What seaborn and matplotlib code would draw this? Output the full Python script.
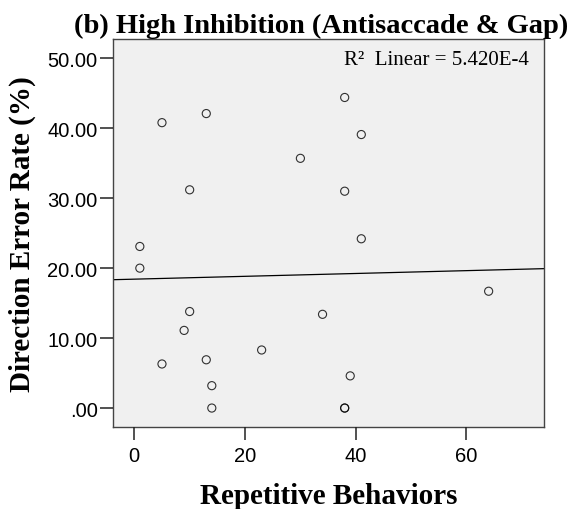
import matplotlib
matplotlib.use("Agg")
import matplotlib.pyplot as plt
import seaborn as sns
import pandas as pd

# Data
repetitive_behaviors = [1, 1, 5, 5, 10, 10, 9, 13, 13, 14, 14, 23, 30, 34, 38, 38, 38, 38, 39, 41, 41, 64]
direction_error_rate = [23.1, 20.0, 40.8, 6.3, 31.2, 13.8, 11.1, 42.1, 6.9, 3.2, 0.0, 8.3, 35.7, 13.4,
                        44.4, 31.0, 0.0, 0.0, 4.6, 39.1, 24.2, 16.7]
x_ticks = [0, 20, 40, 60]
x_tick_labels = ["0", "20", "40", "60"]
y_ticks = [0, 10, 20, 30, 40, 50]
y_tick_labels = [".00", "10.00", "20.00", "30.00", "40.00", "50.00"]

df = pd.DataFrame({"Repetitive Behaviors": repetitive_behaviors,
                   "Direction Error Rate (%)": direction_error_rate})

sns.set_style("ticks")
plt.rcParams.update({
    "axes.axisbelow": False,
    "xtick.bottom": True, "ytick.left": True,
    "xtick.major.size": 9.4, "ytick.major.size": 9.4,
    "xtick.major.width": 1.0, "ytick.major.width": 1.0,
    "xtick.direction": "out", "ytick.direction": "out",
    "xtick.color": "black", "ytick.color": "black",
    "xtick.labelcolor": "black", "ytick.labelcolor": "black",
    "xtick.major.pad": 4.5, "ytick.major.pad": 1.5,
})

fig = plt.figure(figsize=(5.76, 5.10), dpi=100)
L, R, T, B = 112.7, 544.0, 40.0, 428.0
ax = fig.add_axes([L / 576, 1 - B / 510, (R - L) / 576, (B - T) / 510])
ax.set_facecolor("#F0F0F0")
ax.set_xlim(-3.9, 74.0)
ax.set_ylim(-2.71, 52.76)

sns.regplot(data=df, x="Repetitive Behaviors", y="Direction Error Rate (%)", ax=ax,
            ci=None, truncate=False,
            scatter_kws=dict(s=34, facecolors="none", edgecolors="black", linewidths=0.8),
            line_kws=dict(color="black", linewidth=0.9))

ax.set_xlim(-3.9, 74.0)
ax.set_ylim(-2.71, 52.76)

ax.set_xticks(x_ticks)
ax.set_xticklabels(x_tick_labels)
ax.set_yticks(y_ticks)
ax.set_yticklabels(y_tick_labels)
ax.xaxis.set_tick_params(which="major", bottom=True, length=9.4, width=1.1, direction="out",
                         color="#222222", labelsize=14.5, pad=4.5)
ax.yaxis.set_tick_params(which="major", left=True, length=9.4, width=1.1, direction="out",
                         color="#222222", labelsize=14.5, pad=1.5)
for t in ax.xaxis.get_major_ticks() + ax.yaxis.get_major_ticks():
    t.tick1line.set_visible(True)
    t.tick1line.set_alpha(1)
    t.tick1line.set_zorder(5)
for lab in ax.get_xticklabels() + ax.get_yticklabels():
    lab.set_family("Liberation Sans")

for sp in ax.spines.values():
    sp.set_visible(True)
    sp.set_color("#444444")
    sp.set_linewidth(1.0)

serif = dict(family="Liberation Serif", fontweight="bold", color="black")
ax.set_xlabel("Repetitive Behaviors", fontsize=21, labelpad=12, **serif)
ax.set_ylabel("Direction Error Rate (%)", fontsize=21, labelpad=8, **serif)
fig.text(321 / 576, 1 - 33 / 510, "(b) High Inhibition (Antisaccade & Gap)", ha="center", va="baseline",
         fontsize=20.5, **serif)

ax.text(0.965, 0.946, "R\u00b2  Linear = 5.420E-4", transform=ax.transAxes, ha="right", va="center",
        fontsize=15, family="Liberation Serif", color="black")

fig.savefig("out.png", dpi=100)
